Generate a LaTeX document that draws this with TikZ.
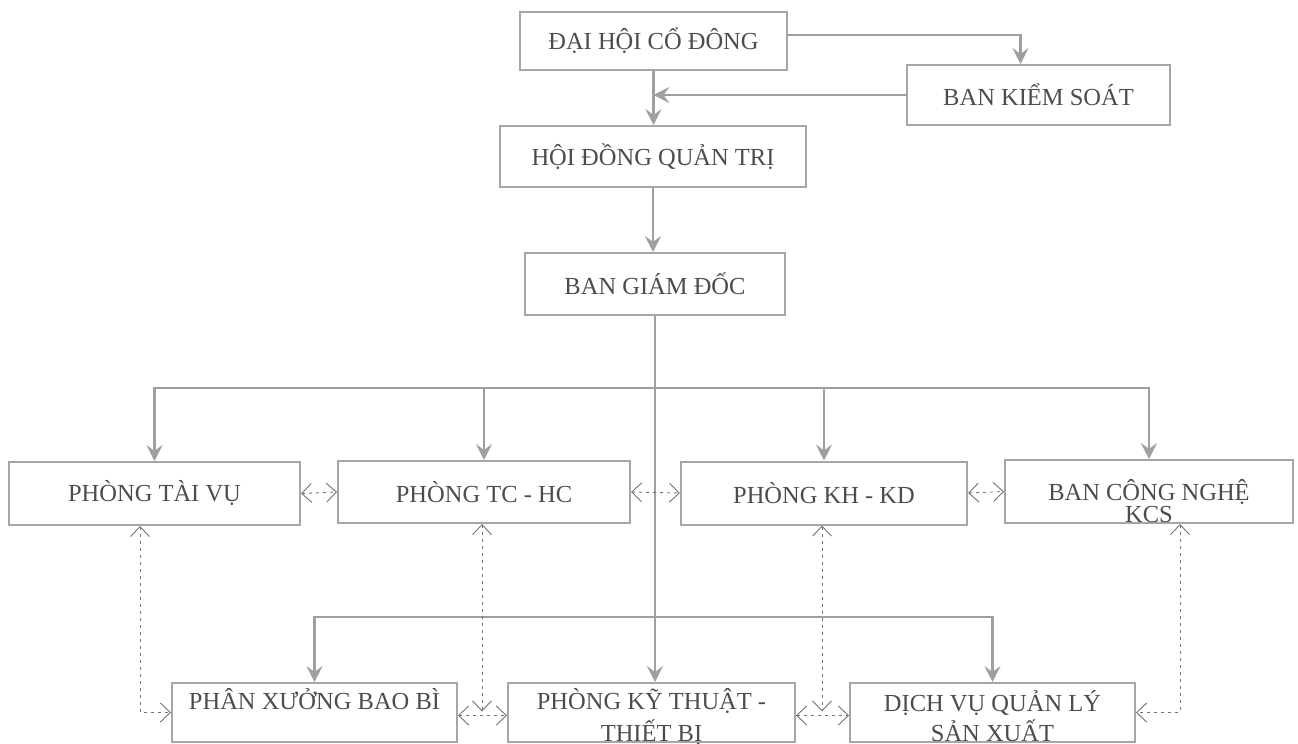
\documentclass[tikz,border=0pt]{standalone}
\usepackage{fontspec}
\setmainfont{Liberation Serif}
\usetikzlibrary{arrows.meta}

\tikzset{
  hop/.style={draw=gray!70, line width=2pt, inner sep=0pt, text=black!70,
    font=\fontsize{24.5}{27}\selectfont},
  chu/.style={text=black!70, inner sep=0pt, align=center,
    font=\fontsize{24.5}{27}\selectfont},
  duong/.style={draw=gray!75, line width=2.2pt},
  netdut/.style={draw=black!55, line width=0.9pt, dash pattern=on 3pt off 4pt,
    >={Straight Barb[length=10pt,width=19pt]}}
}

\begin{document}
\begin{tikzpicture}[x=1pt, y=-1pt, >={Stealth[length=16pt,width=16pt,inset=6pt]}]
    \useasboundingbox (0,0) rectangle (1298,744);

    % Các cấp lãnh đạo
    \node[hop, minimum width=267pt, minimum height=58pt] (dhcd) at (653.5,41) {ĐẠI HỘI CỔ ĐÔNG};
    \node[hop, minimum width=263pt, minimum height=60pt] (bks) at (1038.5,95) {BAN KIỂM SOÁT};
    \node[hop, minimum width=306pt, minimum height=61pt] (hdqt) at (653,156.5) {HỘI ĐỒNG QUẢN TRỊ};
    \node[hop, minimum width=260pt, minimum height=62pt] (bgd) at (655,284) {BAN GIÁM ĐỐC};

    % Các phòng ban
    \node[hop, minimum width=291pt, minimum height=63pt] (tv) at (154.5,493.5) {PHÒNG TÀI VỤ};
    \node[hop, minimum width=292pt, minimum height=62pt] (tchc) at (484,492) {PHÒNG TC - HC};
    \node[hop, minimum width=286pt, minimum height=63pt] (khkd) at (824,493) {PHÒNG KH - KD};
    \node[hop, minimum width=288pt, minimum height=63pt] (kcs) at (1149,491.5) {};
    \node[chu, font=\fontsize{24.5}{22}\selectfont] (kcs-chu) at ([yshift=-10pt]kcs.center) {BAN CÔNG NGHỆ\\KCS};

    % Các bộ phận sản xuất
    \node[hop, minimum width=285pt, minimum height=59pt] (pxbb) at (314.5,712.5) {};
    \node[hop, minimum width=287pt, minimum height=59pt] (pkt) at (651.5,712.5) {};
    \node[hop, minimum width=285pt, minimum height=59pt] (dv) at (992.5,712.5) {};
    \node[chu, anchor=north] (pxbb-chu) at (314.5,688) {PHÂN XƯỞNG BAO BÌ};
    \node[chu, anchor=north, font=\fontsize{24.5}{32}\selectfont] (pkt-chu) at (651.5,688) {PHÒNG KỸ THUẬT -\\THIẾT BỊ};
    \node[chu, anchor=north, font=\fontsize{24.5}{30}\selectfont] (dv-chu) at (992.5,690) {DỊCH VỤ QUẢN LÝ\\SẢN XUẤT};

    % Điểm rẽ nhánh
    \coordinate (re1) at (655,388);
    \coordinate (re2) at (655,617);

    % Quan hệ chỉ đạo
    \draw[duong, ->] ([yshift=6pt]dhcd.east) -| ([xshift=-18pt]bks.north);
    \draw[duong, ->] (bks.west) -- (bks.west -| dhcd.south);
    \draw[duong, ->] (dhcd.south) -- (dhcd.south |- hdqt.north);
    \draw[duong, ->] (hdqt.south) -- (hdqt.south |- bgd.north);
    \draw[duong, ->] (bgd.south) -- (bgd.south |- pkt.north);
    \draw[duong, ->] (re1) -| (tv.north);
    \draw[duong, ->] (re1) -| (tchc.north);
    \draw[duong, ->] (re1) -| (khkd.north);
    \draw[duong, ->] (re1) -| (kcs.north);
    \draw[duong, ->] (re2) -| (pxbb.north);
    \draw[duong, ->] (re2) -| (dv.north);

    % Quan hệ phối hợp
    \draw[netdut, <->] (tv.east) -- (tchc.west);
    \draw[netdut, <->] (tchc.east) -- (khkd.west);
    \draw[netdut, <->] (khkd.east) -- (kcs.west);
    \draw[netdut, <->] ([yshift=-3pt]pxbb.east) -- ([yshift=-3pt]pkt.west) coordinate[midway] (g1);
    \draw[netdut, <->] ([yshift=-3pt]pkt.east) -- ([yshift=-3pt]dv.west) coordinate[midway] (g2);
    \draw[netdut, <->] ([xshift=-14.5pt]tv.south) |- (pxbb);
    \draw[netdut, <->] ([xshift=-2pt]tchc.south) -- ([xshift=-2pt,yshift=4pt]g1 -| tchc.south);
    \draw[netdut, <->] ([xshift=-2pt]khkd.south) -- ([xshift=-2pt,yshift=4pt]g2 -| khkd.south);
    \draw[netdut, <->] ([xshift=31pt]kcs.south) |- (dv);
\end{tikzpicture}
\end{document}
